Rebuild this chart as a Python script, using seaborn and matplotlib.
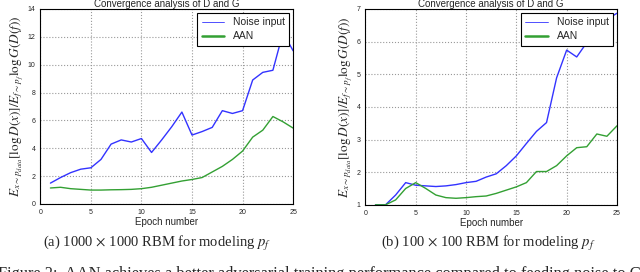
import numpy as np
import pandas as pd
import matplotlib
matplotlib.use("Agg")
import matplotlib.pyplot as plt
import seaborn as sns

# Values
epochs = list(range(1, 26))

noise_a = [1.5, 1.9, 2.25, 2.5, 2.6, 3.2, 4.3, 4.6, 4.45, 4.7, 3.7, 4.6, 5.55,
           6.6, 4.95, 5.2, 5.5, 6.7, 6.5, 6.7, 8.9, 9.45, 9.6, 12.3, 11.0]
aan_a = [1.15, 1.2, 1.1, 1.05, 1.0, 1.0, 1.02, 1.03, 1.05, 1.1, 1.2, 1.35, 1.5,
         1.65, 1.76, 1.9, 2.3, 2.7, 3.2, 3.8, 4.8, 5.3, 6.28, 5.9, 5.45]

noise_b = [1.0, 1.0, 1.3, 1.68, 1.6, 1.58, 1.56, 1.58, 1.62, 1.68, 1.72, 1.85, 1.95,
           2.2, 2.5, 2.88, 3.25, 3.52, 4.89, 5.74, 5.53, 5.97, 6.25, 6.68, 6.87]
aan_b = [1.0, 1.0, 1.15, 1.5, 1.68, 1.5, 1.3, 1.22, 1.2, 1.22, 1.25, 1.27, 1.35,
         1.45, 1.55, 1.68, 2.02, 2.02, 2.2, 2.5, 2.75, 2.78, 3.17, 3.1, 3.42]

captions = [r"(a) 1000 $\times$ 1000 RBM for modeling $p_f$",
            r"(b) 100 $\times$ 100 RBM for modeling $p_f$"]
fig_caption = ("Figure 2:  AAN achieves a better adversarial training performance "
               "compared to feeding noise to G")

sns.set_style("whitegrid", {"grid.linestyle": ":", "grid.color": "#999999",
                            "axes.edgecolor": "black"})
plt.rcParams["font.family"] = ["Liberation Sans", "DejaVu Sans"]
plt.rcParams["mathtext.fontset"] = "stix"

fig = plt.figure(figsize=(6.4, 2.72), dpi=100)
ax1 = fig.add_axes([0.063, 0.25, 0.395, 0.717])
ax2 = fig.add_axes([0.571, 0.247, 0.393, 0.72])

palette = {"Noise input": "#3333ff", "AAN": "#33a033"}
ylabel = r"$E_{x\sim p_{data}}[\log D(x)] / E_{f\sim p_f}\log G(D(f))$"

panels = [(ax1, noise_a, aan_a, (0, 14), range(0, 15, 2)),
          (ax2, noise_b, aan_b, (1, 7), range(1, 8))]

for ax, noise, aan, ylim, yticks in panels:
    df = pd.DataFrame({
        "epoch": epochs * 2,
        "value": noise + aan,
        "series": ["Noise input"] * len(epochs) + ["AAN"] * len(epochs),
    })
    sns.lineplot(data=df, x="epoch", y="value", hue="series", palette=palette,
                 ax=ax, linewidth=1.0)
    ax.set_xlim(0, 25)
    ax.set_ylim(*ylim)
    ax.set_xticks(range(0, 26, 5))
    ax.set_yticks(list(yticks))
    ax.tick_params(labelsize=5, length=2, pad=1.5)
    ax.set_xlabel("Epoch number", fontsize=7, labelpad=1)
    ax.set_ylabel(ylabel, fontsize=9.5, labelpad=2)
    ax.set_title("Convergence analysis of D and G", fontsize=7, pad=1.5)
    for sp in ax.spines.values():
        sp.set_color("black")
        sp.set_linewidth(0.8)
    leg = ax.legend(loc="upper right", fontsize=7.5, fancybox=False,
                    framealpha=1, edgecolor="black", handlelength=2.2,
                    borderaxespad=0.4, labelspacing=0.4)
    leg.get_frame().set_linewidth(0.8)
    leg.get_lines()[0].set_linewidth(0.6)
    leg.get_lines()[1].set_linewidth(1.8)

fig.text(0.245, 0.105, captions[0], ha="center", va="center", fontsize=10.5,
         family="Liberation Serif")
fig.text(0.763, 0.105, captions[1], ha="center", va="center", fontsize=10.5,
         family="Liberation Serif")
fig.text(-0.003, 0.022, fig_caption, ha="left", va="top", fontsize=11.8,
         family="Liberation Serif")

fig.savefig("out.png", dpi=100)
